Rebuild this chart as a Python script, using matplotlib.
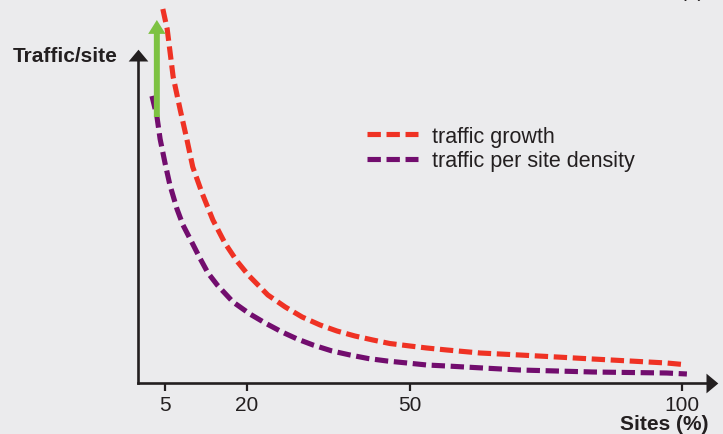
import matplotlib.pyplot as plt

# curve values (x = sites %, y = traffic/site, arbitrary units)
growth_x = [4.6, 5.4, 6.5, 7.8, 9.0, 10.1, 11.8, 13.8, 16.0, 18.2, 20.3, 23.9, 27.1,
            30.2, 33.5, 36.6, 39.9, 43.2, 46.3, 50.0, 53.1, 56.8, 62.9, 70.2, 77.0,
            83.6, 90.4, 97.2, 100.2]
growth_y = [37.4, 35.4, 30.6, 27.3, 24.4, 21.6, 19.0, 16.3, 14.0, 12.2, 10.8, 8.8, 7.6,
            6.6, 5.8, 5.2, 4.7, 4.3, 3.95, 3.7, 3.5, 3.3, 3.0, 2.8, 2.6,
            2.4, 2.2, 2.0, 1.85]

density_x = [2.6, 3.5, 4.1, 5.0, 5.9, 7.2, 8.3, 10.0, 11.4, 12.9, 14.6, 17.5, 20.6,
             23.4, 26.5, 29.3, 32.2, 35.7, 39.0, 42.3, 45.8, 49.5, 53.1, 56.8, 63.4,
             70.2, 77.0, 83.6, 90.4, 97.2, 100.9]
density_y = [28.7, 26.7, 24.4, 22.0, 19.8, 17.4, 15.8, 14.0, 12.5, 11.0, 9.8, 8.1, 6.9,
             6.0, 5.1, 4.4, 3.8, 3.2, 2.8, 2.45, 2.2, 2.0, 1.8, 1.7, 1.5,
             1.3, 1.2, 1.1, 1.05, 1.0, 0.9]

xticks = [5, 20, 50, 100]
labels = ['traffic growth', 'traffic per site density']

bg = '#ebebed'
red = '#ef3224'
purple = '#720d6e'
green = '#7dc242'
dark = '#231f20'

plt.rcParams['font.family'] = ['Liberation Sans', 'DejaVu Sans']

fig = plt.figure(figsize=(7.23, 4.35), dpi=100, facecolor=bg)
# axes box: origin at px (137.8, 384), x 5.442 px per unit, y 10 px per unit
ax = fig.add_axes([137.8 / 723, 51 / 435, (706 - 137.8) / 723, (384 - 62) / 435])
ax.set_facecolor(bg)
ax.set_xlim(0, (706 - 137.8) / 5.442)
ax.set_ylim(0, (384 - 62) / 10)

for s in ['top', 'right']:
    ax.spines[s].set_visible(False)
for s in ['left', 'bottom']:
    ax.spines[s].set_linewidth(1.9)
    ax.spines[s].set_color(dark)

# arrow heads on the axes
up_head = [(-1, 0), (1, 0), (0, 1.2)]
right_head = [(0, -1), (0, 1), (1.2, 0)]
ax.plot(0, 1, marker=up_head, ms=17, color=dark, mew=0,
        transform=ax.transAxes, clip_on=False)
ax.plot(1, 0, marker=right_head, ms=17, color=dark, mew=0,
        transform=ax.transAxes, clip_on=False)

ax.set_xticks(xticks)
ax.set_xticklabels([str(t) for t in xticks])
ax.set_yticks([])
ax.tick_params(axis='x', length=6, width=1.6, color=dark, labelsize=15,
               labelcolor=dark, pad=3)

dash = (2.6, 1.1)
ax.plot(growth_x, growth_y, color=red, lw=3.7, dashes=dash, clip_on=False,
        label=labels[0])
ax.plot(density_x, density_y, color=purple, lw=3.7, dashes=dash, clip_on=False,
        label=labels[1])

ax.annotate('', xy=(3.5, 36.3), xytext=(3.5, 26.6), annotation_clip=False,
            arrowprops=dict(facecolor=green, edgecolor='none', width=4.3,
                            headwidth=12.5, headlength=10, shrink=0))

leg = ax.legend(loc='upper left', bbox_to_anchor=(367 / 723, 1 - 127 / 435),
                bbox_transform=fig.transFigure, frameon=False, fontsize=15.5,
                handlelength=2.37, handletextpad=0.65, labelspacing=0.15,
                borderpad=0, borderaxespad=0)
for t in leg.get_texts():
    t.set_color(dark)

fig.text(118 / 723, 1 - 56 / 435, 'Traffic/site', ha='right', va='center',
         fontsize=15, fontweight='bold', color=dark)
fig.text(708 / 723, 1 - 425 / 435, 'Sites (%)', ha='right', va='center',
         fontsize=15, fontweight='bold', color=dark)
fig.text(692 / 723, 0.997, '(b)', ha='center', va='bottom', fontsize=15,
         color=dark)

fig.savefig('out.png', dpi=100, facecolor=bg)
